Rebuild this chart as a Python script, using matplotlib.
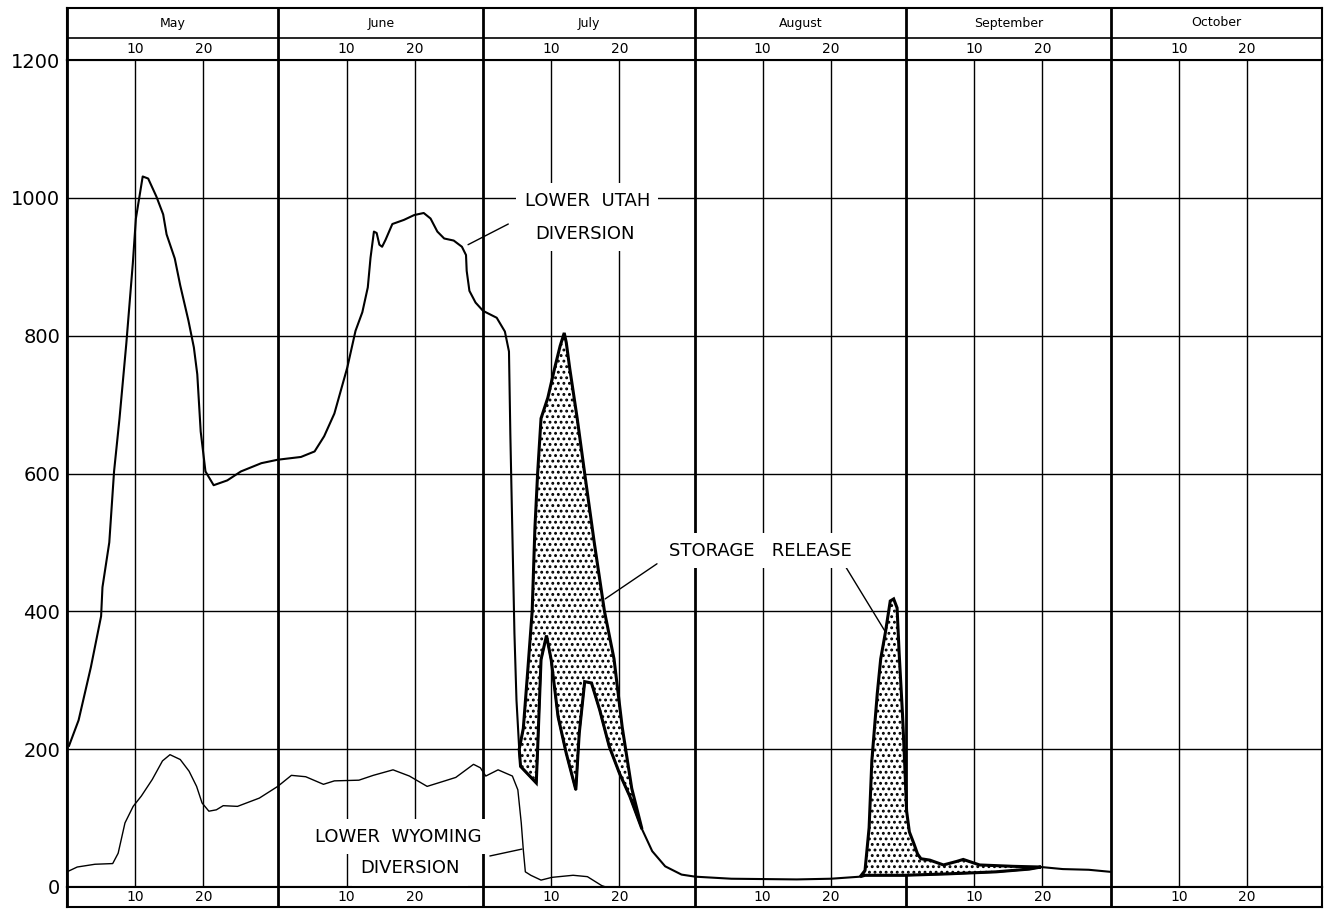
import numpy as np
import matplotlib.pyplot as plt

# x = day counted from April 30  (May 10 -> 10, June 10 -> 41, ...)
month_names = ['May', 'June', 'July', 'August', 'September', 'October']
month_start = [0, 31, 61, 92, 123, 153, 184]
y_ticks = [0, 200, 400, 600, 800, 1000, 1200]

# Lower Utah diversion (natural flow part, lower edge of the storage areas)
utah_day = [0.3, 1.7, 3.5, 5.0, 5.2, 6.2, 6.9, 7.7, 8.7, 9.65, 10.1, 11.1, 11.9,
            13.1, 14.1, 14.6, 15.8, 16.6, 17.8, 18.6, 19.1, 19.6, 20.3, 21.5,
            23.5, 25.5, 28.5, 30.9, 34.3, 36.3, 37.7, 39.2, 41.1, 42.3, 43.3,
            44.1, 44.5, 45.0, 45.4, 45.8, 46.2, 46.7, 47.7, 49.4, 50.9, 52.3,
            53.3, 54.3, 55.3, 56.7, 57.9, 58.5, 58.6, 59.0, 59.9, 61.0, 63.0,
            64.2, 64.8, 65.0, 65.3, 65.6, 65.9, 66.3, 66.5, 68.8, 69.0, 69.5,
            70.3, 71.0, 72.0, 73.2, 74.6, 75.1, 75.9, 76.9, 78.1, 79.5, 81.0,
            82.5, 84.3, 85.8, 87.7, 90.1, 92.1, 97.4, 107.0, 112.0, 116.3,
            117.0, 122.7, 129.0, 136.2, 141.1, 142.8, 146.0, 149.8, 153.0]
utah_cfs = [205, 242, 319, 393, 435, 500, 603, 680, 789, 905, 970, 1031, 1028,
            1002, 976, 947, 912, 873, 822, 783, 744, 661, 603, 583,
            590, 603, 615, 620, 624, 632, 654, 687, 754, 807, 834,
            870, 913, 951, 949, 932, 929, 939, 962, 968, 975, 978,
            970, 951, 941, 938, 929, 917, 894, 865, 848, 836, 826,
            806, 777, 657, 512, 368, 271, 200, 175, 151, 200, 330,
            365, 329, 247, 194, 141, 223, 298, 296, 257, 204, 165,
            132, 84, 52, 30, 18, 15, 12, 11, 12, 15,
            17, 17, 19, 22, 26, 29, 26, 25, 22]

# diversion including storage release (upper edge of the dotted areas)
release1_day = [66.3, 66.9, 67.6, 68.2, 68.6, 69.0, 69.5, 70.5, 71.5, 72.3, 72.9,
                73.2, 73.7, 74.8, 75.9, 77.3, 78.8, 80.2, 81.4, 82.8, 84.3]
release1_cfs = [200, 230, 320, 400, 520, 600, 680, 710, 753, 785, 804,
                790, 753, 680, 600, 500, 400, 331, 232, 143, 84]
release2_day = [116.3, 117.0, 117.6, 118.0, 118.8, 119.3, 120.0, 120.7, 121.2,
                121.7, 122.0, 122.5, 122.8, 123.1, 123.5, 124.2, 124.7, 125.2,
                126.5, 128.5, 130.4, 131.4, 133.8, 138.7, 142.8]
release2_cfs = [15, 24, 86, 183, 281, 331, 370, 415, 418,
                405, 340, 250, 183, 110, 80, 62, 48, 41,
                39, 32, 37, 40, 32, 30, 29]

# Lower Wyoming diversion
wyo_day = [0, 1.5, 4.1, 6.7, 7.5, 8.5, 9.7, 10.9, 12.5, 14.0, 15.1, 16.6, 17.9,
           19.0, 19.8, 20.8, 21.9, 22.9, 25.0, 28.2, 30.9, 32.9, 35.0, 37.6,
           39.2, 42.8, 44.9, 47.8, 50.2, 52.8, 55.4, 57.0, 59.6, 60.6, 61.4,
           63.2, 65.3, 66.1, 66.6, 66.9, 67.2, 68.0, 69.5, 71.1, 74.2, 76.3,
           78.4, 79.0]
wyo_cfs = [22, 29, 33, 34, 49, 93, 117, 132, 156, 183, 192, 185, 168,
           146, 122, 110, 112, 118, 117, 129, 146, 162, 160, 149,
           154, 155, 162, 170, 161, 146, 154, 159, 178, 173, 161,
           170, 161, 141, 93, 54, 22, 17, 10, 14, 17, 15,
           2, 0]

plt.rcParams['hatch.linewidth'] = 1.3
W, H = 1328, 909
fig = plt.figure(figsize=(W / 100, H / 100), dpi=100)
ax = fig.add_axes([67 / W, 22 / H, 1255 / W, 827 / H])
ax_top = fig.add_axes([67 / W, 849 / H, 1255 / W, 52 / H])
ax_bot = fig.add_axes([67 / W, 2 / H, 1255 / W, 20 / H])

# grid
for m in month_start:
    for a in (ax, ax_top, ax_bot):
        a.axvline(m, color='black', lw=2.0, zorder=1)
    if m < 184:
        ax.axvline(m + 10, color='black', lw=1.0, zorder=1)
        ax.axvline(m + 20, color='black', lw=1.0, zorder=1)
for v in y_ticks[1:-1]:
    ax.axhline(v, color='black', lw=1.0, zorder=1)

# curves
ax.plot(utah_day, utah_cfs, color='black', lw=1.5, zorder=3)
ax.plot(wyo_day, wyo_cfs, color='black', lw=1.0, zorder=3)

ud = np.array(utah_day)
uc = np.array(utah_cfs)
for rd, rc in [(release1_day, release1_cfs), (release2_day, release2_cfs)]:
    m = (ud >= rd[0]) & (ud <= rd[-1])
    px = np.concatenate([rd, ud[m][::-1]])
    py = np.concatenate([rc, uc[m][::-1]])
    ax.fill(px, py, facecolor='white', edgecolor='black', hatch='...',
            lw=2.2, zorder=4)

# labels
box = dict(facecolor='white', edgecolor='none', pad=6)
tkw = dict(fontsize=13, ha='center', va='center', zorder=5, bbox=box)
ax.text(76.3, 996, 'LOWER  UTAH', **tkw)
ax.text(76.0, 948, 'DIVERSION', **tkw)
ax.text(101.6, 488, 'STORAGE   RELEASE', **tkw)
ax.text(48.5, 73, 'LOWER  WYOMING', **tkw)
ax.text(50.3, 27, 'DIVERSION', **tkw)

lkw = dict(arrowprops=dict(arrowstyle='-', color='black', lw=1.0,
                           shrinkA=0, shrinkB=0))
ax.annotate('', xy=(58.8, 932), xytext=(64.7, 962), **lkw)
ax.annotate('', xy=(78.9, 418), xytext=(86.5, 469), **lkw)
ax.annotate('', xy=(120.0, 370), xytext=(114.2, 464), **lkw)
ax.annotate('', xy=(66.7, 55), xytext=(62.0, 45), **lkw)

ax.set_xlim(0, 184)
ax.set_ylim(0, 1200)
ax.set_xticks([])
ax.set_yticks(y_ticks)
ax.set_yticklabels([str(v) for v in y_ticks])
ax.tick_params(axis='y', length=0, pad=5, labelsize=14)
for s in ax.spines.values():
    s.set_linewidth(1.5)

# header: month names + day numbers
ax_top.set_xlim(0, 184)
ax_top.set_ylim(0, 52)
ax_top.axhline(22, color='black', lw=1.2)
ax_bot.set_xlim(0, 184)
ax_bot.set_ylim(0, 20)
for i, name in enumerate(month_names):
    a, b = month_start[i], month_start[i + 1]
    ax_top.text((a + b) / 2, 37, name, fontsize=9, ha='center', va='center')
    for d in (10, 20):
        ax_top.text(a + d, 11, str(d), fontsize=10, ha='center', va='center')
        ax_bot.text(a + d, 10, str(d), fontsize=10, ha='center', va='center')
for a in (ax_top, ax_bot):
    a.set_xticks([])
    a.set_yticks([])
    for s in a.spines.values():
        s.set_linewidth(1.5)

fig.savefig('out.png', dpi=100)
